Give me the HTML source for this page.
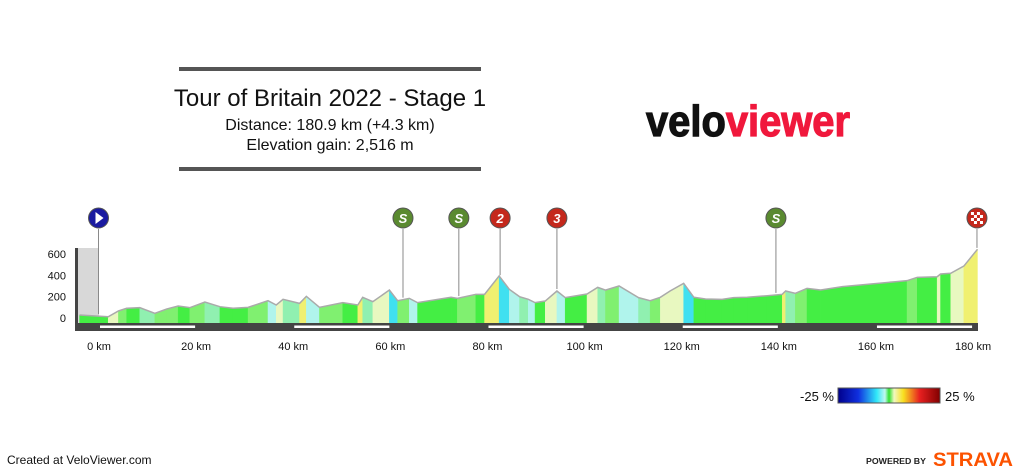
<!DOCTYPE html>
<html><head><meta charset="utf-8"><style>
html,body{margin:0;padding:0;background:#fff;width:1023px;height:476px;overflow:hidden}
svg{display:block;font-family:"Liberation Sans",Arial,sans-serif}
</style></head><body>
<svg id="chart" width="1023" height="476" viewBox="0 0 1023 476">
<rect x="179" y="67" width="302" height="4" fill="#555"/>
<rect x="179" y="167" width="302" height="4" fill="#555"/>
<text x="330" y="106" text-anchor="middle" font-size="24" fill="#111">Tour of Britain 2022 - Stage 1</text>
<text x="330" y="130" text-anchor="middle" font-size="16" fill="#111">Distance: 180.9 km (+4.3 km)</text>
<text x="330" y="150" text-anchor="middle" font-size="16" fill="#111">Elevation gain: 2,516 m</text>
<text x="646" y="136" font-size="44" font-weight="bold" textLength="204" lengthAdjust="spacingAndGlyphs" stroke-width="1.2"><tspan fill="#111" stroke="#111">velo</tspan><tspan fill="#f0183c" stroke="#f0183c">viewer</tspan></text>
<g id="profile"></g>
<g id="markers"></g>
<defs><linearGradient id="lg" x1="0" x2="1">
<stop offset="0" stop-color="#00008b"/><stop offset="0.2" stop-color="#1030e0"/><stop offset="0.38" stop-color="#30e8f8"/><stop offset="0.46" stop-color="#c0f8f0"/><stop offset="0.5" stop-color="#30e030"/><stop offset="0.55" stop-color="#f0f8c0"/><stop offset="0.64" stop-color="#f8e020"/><stop offset="0.72" stop-color="#f08020"/><stop offset="0.8" stop-color="#e82020"/><stop offset="1" stop-color="#800000"/></linearGradient></defs>
<text x="834" y="401" text-anchor="end" font-size="13" fill="#111">-25 %</text>
<rect x="838" y="388" width="102" height="15" fill="url(#lg)" stroke="#555"/>
<text x="945" y="401" font-size="13" fill="#111">25 %</text>
<text x="7" y="464" font-size="12" fill="#111">Created at VeloViewer.com</text>
<text x="866" y="464" font-size="8" font-weight="bold" textLength="60" lengthAdjust="spacingAndGlyphs" fill="#222">POWERED BY</text>
<text x="933" y="466" font-size="19" font-weight="bold" textLength="80" lengthAdjust="spacingAndGlyphs" fill="#fc5200">STRAVA</text>
</svg>
<script>
const kms=[-4,1.9,4,5.7,8.4,11.5,13.9,16.3,18.7,21.8,24.9,27.6,30.7,34.8,36.5,37.9,41.3,42.7,45.4,50.2,53.3,54.3,56.4,59.8,61.5,63.9,65.6,72.5,73.8,77.6,79.4,82.4,84.5,86.6,88.4,89.8,91.9,94.3,96.0,100.5,102.7,104.3,107.1,111.1,113.5,115.6,117.6,120.4,122.5,124.9,128.3,130.7,133.5,137.6,140.7,141.4,143.4,145.8,148.6,153.1,164.0,166.4,168.5,172.6,173.3,175.4,178.1,180.9];
const elevs=[28,12,66,91,97,44,84,112,97,150,106,91,100,162,122,175,137,203,100,144,122,194,153,262,162,184,144,194,184,222,222,394,269,200,175,144,159,253,191,225,287,262,300,191,162,194,253,325,194,178,175,191,194,209,222,253,231,278,262,294,340,350,381,387,412,419,487,644];
const xTicks=[0,20,40,60,80,100,120,140,160,180];
const yTicks=[0,200,400,600];
const markerKm=[-0.1,62.6,74.1,82.6,94.3,139.4,180.8];
const markerLabels=['▶','S','S','2','3','S','F'];
const markerTypes=['start','sprint','sprint','kom','kom','sprint','finish'];
const NS='http://www.w3.org/2000/svg';
const X=k=>99+k*4.856, Y=e=>318-e*0.1067, BASE=323;
const prof=document.getElementById('profile');
function mk(tag,attrs,parent){const e=document.createElementNS(NS,tag);for(const k in attrs)e.setAttribute(k,attrs[k]);parent.appendChild(e);return e;}
function col(g){if(g>8)return'#f0a030';if(g>4)return'#f0f070';if(g>2)return'#e8f8c0';if(g>0.8)return'#80f070';if(g>-0.8)return'#44ee44';if(g>-2)return'#90f0b0';if(g>-5)return'#b0f4ec';return'#40e0f0';}
const gb=mk('rect',{x:X(-4.9),y:Y(656),width:X(0)-X(-4.9),height:BASE-Y(656),fill:'#d8d8d8'},prof);


for(let i=0;i<kms.length-1;i++){
 const g=(elevs[i+1]-elevs[i])/((kms[i+1]-kms[i])*1000)*100;
 const p=mk('polygon',{points:`${X(kms[i])},${BASE} ${X(kms[i])},${Y(elevs[i])} ${X(kms[i+1])},${Y(elevs[i+1])} ${X(kms[i+1])},${BASE}`,fill:col(g),stroke:col(g),'stroke-width':0.5},prof);
 
 
}
const ol=mk('polyline',{points:kms.map((k,i)=>X(k)+','+Y(elevs[i])).join(' '),fill:'none',stroke:'#aaa','stroke-width':1.5},prof);


const ax=mk('rect',{x:75,y:248,width:3,height:83,fill:'#444'},prof);


const gr=mk('rect',{x:75,y:323,width:903,height:8,fill:'#444'},prof);


for(let i=0;i<xTicks.length-1;i+=2){
 const s=mk('rect',{x:X(xTicks[i])+1,y:325.5,width:X(xTicks[i+1])-X(xTicks[i])-2,height:2.5,fill:'#fff'},prof);
 
 
}
xTicks.forEach(t=>{const e=mk('text',{x:X(t),y:350,'text-anchor':'middle','font-size':11,fill:'#111'},prof);e.textContent=t+' km';
 
 });
yTicks.forEach(t=>{const e=mk('text',{x:66,y:Y(t)+4,'text-anchor':'end','font-size':11,fill:'#111'},prof);e.textContent=t;
 
 });
const mg=document.getElementById('markers');
function elevAt(k){if(k<=kms[0])return elevs[0];for(let i=0;i<kms.length-1;i++){if(k<=kms[i+1]){const t=(k-kms[i])/(kms[i+1]-kms[i]);return elevs[i]+t*(elevs[i+1]-elevs[i]);}}return elevs[elevs.length-1];}
markerKm.forEach((k,i)=>{
 const x=X(k),ty=markerTypes[i];
 const g=mk('g',{},mg);
 
 
 mk('line',{x1:x,y1:229,x2:x,y2:Y(elevAt(k))-2,stroke:'#888','stroke-width':1},g);
 const fill=ty==='start'?'#1a1aa0':ty==='sprint'?'#5a8a30':'#c4281c';
 mk('circle',{cx:x,cy:218,r:10,fill:fill,stroke:'#555','stroke-width':1},g);
 if(ty==='start'){mk('polygon',{points:`${x-3},${212} ${x-3},${224} ${x+5},${218}`,fill:'#fff'},g);}
 else if(ty==='finish'){for(let a=0;a<4;a++)for(let b=0;b<4;b++)if((a+b)%2===0)mk('rect',{x:x-6+a*3,y:212+b*3,width:3,height:3,fill:'#fff'},g);}
 else{const t=mk('text',{x:x,y:223,'text-anchor':'middle','font-size':13,'font-weight':'bold','font-style':'italic',fill:'#fff'},g);t.textContent=markerLabels[i];}
});
</script>
</body></html>
